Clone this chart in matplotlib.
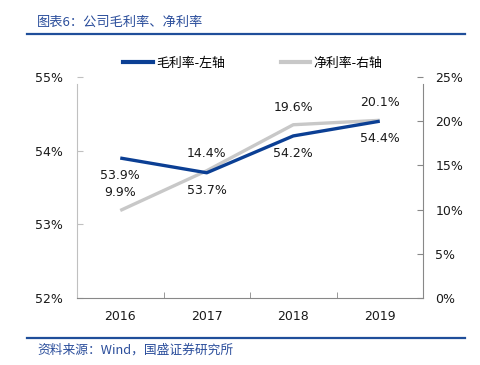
import matplotlib.pyplot as plt
from matplotlib.lines import Line2D

plt.rcParams['font.family'] = ['DejaVu Sans', 'Noto Sans CJK SC']

years = ['2016', '2017', '2018', '2019']
gross = [53.9, 53.7, 54.2, 54.4]
net = [9.9, 14.4, 19.6, 20.1]
left_ticks = [52, 53, 54, 55]
right_ticks = [0, 5, 10, 15, 20, 25]

blue = '#0B3F94'
grey = '#C8C8C8'
txt = '#1a1a1a'
cjk = ['Noto Sans CJK SC', 'DejaVu Sans']

fig = plt.figure(figsize=(4.81, 3.65), dpi=100)
ax = fig.add_axes([77/481, 67/365, 346/481, 221/365])
ax2 = ax.twinx()

x = list(range(len(years)))
ax2.plot(x, net, color=grey, lw=2.4, solid_capstyle='butt', zorder=2)
ax.plot(x, gross, color=blue, lw=2.4, solid_capstyle='butt', zorder=3)
ax.set_zorder(ax2.get_zorder() + 1)
ax.patch.set_visible(False)

ax.set_xlim(-0.5, 3.5)
ax.set_ylim(52, 55)
ax2.set_ylim(0, 25)
ax.set_xticks(x)
ax.set_xticklabels(years)
ax.set_xticks([0.5, 1.5, 2.5], minor=True)
ax.tick_params(axis='x', which='major', length=0, pad=9, labelsize=9, colors=txt)
ax.tick_params(axis='x', which='minor', length=4, color='#888888', direction='in')
ax.set_yticks(left_ticks)
ax.set_yticklabels([f'{v}%' for v in left_ticks])
ax.tick_params(axis='y', length=4, color='#c0c0c0', direction='in', pad=10, labelsize=9, colors=txt)
ax2.set_yticks(right_ticks)
ax2.set_yticklabels([f'{v}%' for v in right_ticks])
ax2.tick_params(axis='y', length=4, color='#888888', direction='in', pad=9, labelsize=9, colors=txt)

for a in (ax, ax2):
    a.spines['top'].set_visible(False)
ax.spines['right'].set_visible(False)
ax.spines['left'].set_color('#c0c0c0')
ax.spines['left'].set_bounds(52, 54.9)
ax.spines['bottom'].set_color('#888888')
ax2.spines['left'].set_visible(False)
ax2.spines['bottom'].set_visible(False)
ax2.spines['right'].set_color('#888888')
ax2.spines['right'].set_bounds(0, 24.2)

for i, v in enumerate(gross):
    ax.annotate(f'{v}%', (i, v), xytext=(0, -8), textcoords='offset points',
                ha='center', va='top', fontsize=9, color=txt)
for i, v in enumerate(net):
    ax2.annotate(f'{v}%', (i, v), xytext=(0, 8), textcoords='offset points',
                 ha='center', va='bottom', fontsize=9, color=txt)

# legend
handles = [Line2D([], [], color=blue, lw=3), Line2D([], [], color=grey, lw=3)]
fig.legend(handles, ['毛利率-左轴', '净利率-右轴'], loc='center',
           bbox_to_anchor=(253/481, 1 - 63/365),
           ncol=2, frameon=False, handlelength=2.3, handletextpad=0.25, columnspacing=4.3,
           prop={'family': cjk, 'size': 9.3})

# header / footer
fig.text(37/481, 1 - 22/365, '图表6：公司毛利率、净利率', family=cjk, fontsize=9.5,
         color='#2A4D9B', va='center', ha='left')
fig.add_artist(Line2D([27/481, 465/481], [1 - 34/365] * 2, color='#1F4E9A', lw=1.6))
fig.add_artist(Line2D([27/481, 465/481], [1 - 338/365] * 2, color='#1F4E9A', lw=1.6))
fig.text(37/481, 1 - 350/365, '资料来源：Wind，国盛证券研究所', family=cjk, fontsize=9.2,
         color='#2A4D9B', va='center', ha='left')

fig.savefig('out.png', dpi=100)
